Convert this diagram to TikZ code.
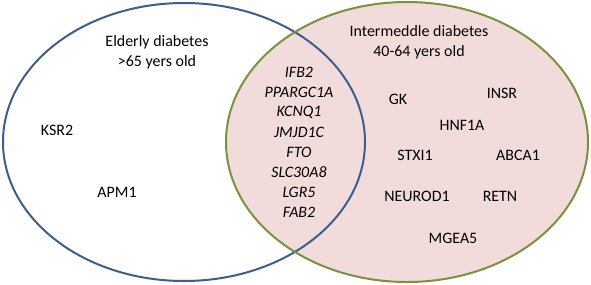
\documentclass[tikz,border=0pt]{standalone}
\usepackage{fontspec}
\setmainfont{Carlito}
\usepackage{xcolor}
\usetikzlibrary{positioning}
\definecolor{elder}{HTML}{3A5F8E}
\definecolor{middle}{HTML}{77933C}
\definecolor{rose}{HTML}{F2DCDB}
\tikzset{
  setelder/.style={draw=elder,line width=2bp},
  setmiddle/.style={draw=middle,line width=2bp},
  gene/.style={font=\fontsize{16}{19}\selectfont,inner sep=0pt},
  shared/.style={gene,font=\fontsize{16}{19}\selectfont\itshape},
  title/.style={gene,align=center,font=\fontsize{16}{20}\selectfont}
}

\begin{document}
\begin{tikzpicture}[x=1bp,y=-1bp]
  \useasboundingbox (0,0) rectangle (591,284);
  \fill[rose] (407,142) ellipse [x radius=181,y radius=140];
  \draw[setelder] (184,142) ellipse [x radius=181,y radius=139];
  \draw[setmiddle] (407,142) ellipse [x radius=181,y radius=140];
  % set titles
  \node[title] (eldtitle) at (157,52) {Elderly diabetes\\>65 yers old};
  \node[title] (midtitle) at (419,42) {Intermeddle diabetes\\40-64 yers old};
  % elderly only
  \node[gene] (ksr) at (57,130) {KSR2};
  \node[gene] (apm) at (117,192) {APM1};
  % shared genes
  \foreach \g [count=\i from 0] in {IFB2,PPARGC1A,KCNQ1,JMJD1C,FTO,SLC30A8,LGR5,FAB2}
    \node[shared] (sh\i) at (299,72+20.1*\i) {\g};
  % intermeddle only
  \node[gene] (gk) at (398,99) {GK};
  \node[gene] (insr) at (502,93) {INSR};
  \node[gene] (hnf) at (462,125) {HNF1A};
  \node[gene] (stx) at (415,155) {STXI1};
  \node[gene] (abca) at (518,155) {ABCA1};
  \node[gene] (neuro) at (417,196) {NEUROD1};
  \node[gene] (retn) at (500,196) {RETN};
  \node[gene] (mgea) at (453,238) {MGEA5};
\end{tikzpicture}
\end{document}
